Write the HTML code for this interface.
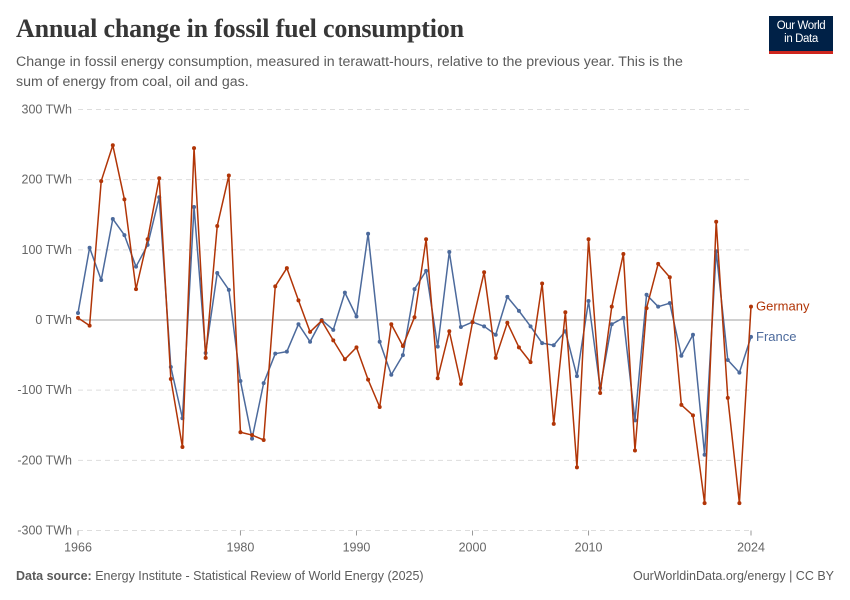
<!DOCTYPE html>
<html><head><meta charset="utf-8"><style>
body{margin:0;background:#fff;font-family:"Liberation Sans",sans-serif;}
#wrap{position:relative;width:850px;height:600px;overflow:hidden;}
.t{position:absolute;white-space:nowrap;}
</style></head><body>
<div id="wrap">
<div class="t" style="left:16px;top:14px;font-family:'Liberation Serif',serif;font-size:26px;font-weight:bold;color:#373737;letter-spacing:-0.2px;">Annual change in fossil fuel consumption</div>
<div class="t" style="left:16px;top:52px;font-size:14.2px;color:#5b5b5b;line-height:20px;white-space:normal;width:685px;">Change in fossil energy consumption, measured in terawatt-hours, relative to the previous year. This is the sum of energy from coal, oil and gas.</div>
<div style="position:absolute;left:769px;top:16px;width:64px;background:#002147;border-bottom:3px solid #ce261e;color:#fff;font-size:11.5px;line-height:13px;text-align:center;padding-top:4px;height:31px;letter-spacing:-0.4px;">Our World<br>in Data</div>
<svg id="chart" width="850" height="600" style="position:absolute;left:0;top:0"></svg>
<div class="t" style="left:16px;top:569px;font-size:12.5px;color:#5b5b5b;"><b>Data source:</b> Energy Institute - Statistical Review of World Energy (2025)</div>
<div class="t" style="right:16px;top:569px;font-size:12.5px;color:#5b5b5b;">OurWorldinData.org/energy | CC BY</div>
</div>
<script>
const years=[];for(let y=1966;y<=2024;y++)years.push(y);
const germany=[3,-8,198,249,172,44,115,202,-84,-181,245,-54,134,206,-160,-164,-171,48,74,28,-17,-1,-29,-56,-39,-85,-124,-6,-37,4,115,-83,-16,-91,-3,68,-54,-4,-39,-60,52,-148,11,-210,115,-104,19,94,-186,17,80,61,-121,-136,-261,140,-111,-261,19];
const france=[10,103,57,144,121,76,107,175,-67,-140,161,-47,67,43,-87,-169,-90,-48,-45,-6,-31,0,-14,39,5,123,-31,-78,-50,44,70,-38,97,-10,-3,-9,-21,33,13,-9,-33,-36,-16,-80,27,-97,-6,3,-143,36,19,24,-51,-21,-192,98,-57,-75,-24];
const yTicks=[300,200,100,0,-100,-200,-300];
const yTickLabels=["300 TWh","200 TWh","100 TWh","0 TWh","-100 TWh","-200 TWh","-300 TWh"];
const xTicks=[1966,1980,1990,2000,2010,2024];
const NS="http://www.w3.org/2000/svg";
const svg=document.getElementById('chart');
const X=y=>78+(y-1966)*(751-78)/58;
const Y=v=>320-v*(210.5/300);
function mk(t,a){const e=document.createElementNS(NS,t);for(const k in a)e.setAttribute(k,a[k]);svg.appendChild(e);return e;}
yTicks.forEach((v,i)=>{
 const l=mk('line',{x1:78,x2:751,y1:Y(v),y2:Y(v),stroke:v===0?'#a0a0a0':'#ddd','stroke-dasharray':v===0?'':'5,4','stroke-width':1});
 
 
 const t=mk('text',{x:72,y:Y(v)+4,'text-anchor':'end','font-size':12.5,fill:'#666','font-family':'Liberation Sans, sans-serif'});
 t.textContent=yTickLabels[i];
 
 
});
xTicks.forEach(yr=>{
 const tk=mk('line',{x1:X(yr),x2:X(yr),y1:Y(-300),y2:Y(-300)+5,stroke:'#999'});
 
 
 const t=mk('text',{x:X(yr),y:Y(-300)+21,'text-anchor':'middle','font-size':12.5,fill:'#666','font-family':'Liberation Sans, sans-serif'});
 t.textContent=yr;
 
 
});
function series(vals,color,name){
 const p=mk('polyline',{points:vals.map((v,i)=>X(years[i])+','+Y(v)).join(' '),fill:'none',stroke:color,'stroke-width':1.5,'stroke-linejoin':'round'});
 
 
 vals.forEach((v,i)=>{const c=mk('circle',{cx:X(years[i]),cy:Y(v),r:2,fill:color});
 
 });
}
series(france,'#4c6a9c','france');
series(germany,'#b13507','germany');
const lg=mk('text',{x:756,y:Y(germany[germany.length-1])+4,'font-size':13,fill:'#b13507','font-family':'Liberation Sans, sans-serif'});
lg.textContent='Germany';


const lf=mk('text',{x:756,y:Y(france[france.length-1])+4,'font-size':13,fill:'#4c6a9c','font-family':'Liberation Sans, sans-serif'});
lf.textContent='France';


</script>
</body></html>
